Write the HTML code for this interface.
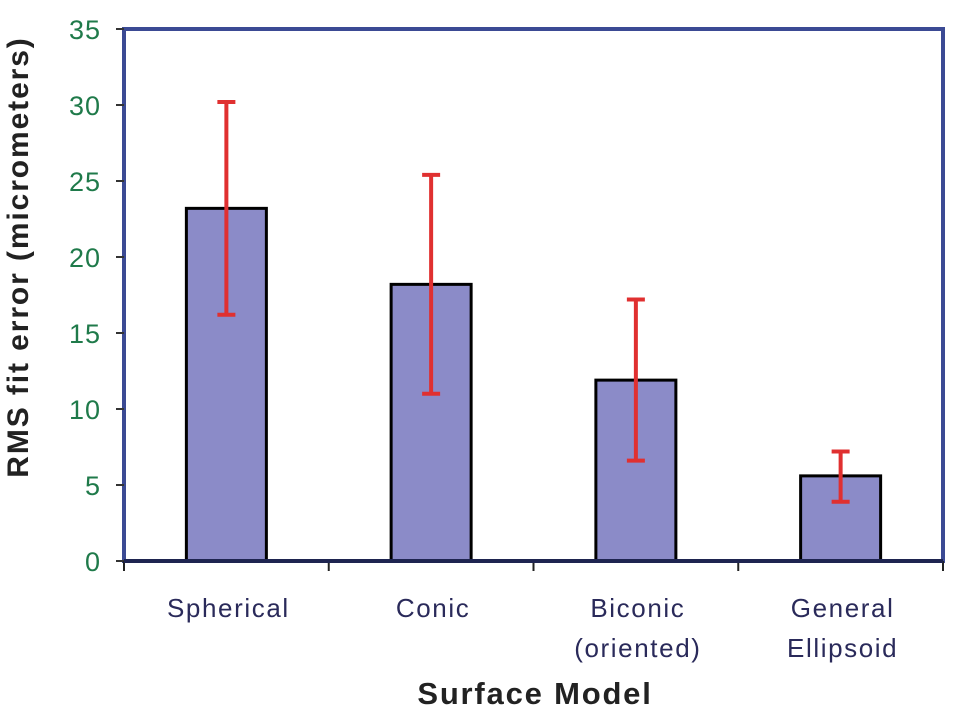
<!DOCTYPE html>
<html><head><meta charset="utf-8"><style>
body{margin:0;background:#fff;width:965px;height:707px;overflow:hidden}
svg{display:block;font-family:"Liberation Sans",Arial,sans-serif}
</style></head><body>
<svg id="chart" width="965" height="707" viewBox="0 0 965 707">
<rect x="124" y="29" width="819" height="532" fill="#fff" stroke="#3b4a94" stroke-width="4"/>
<g id="marks"></g>
<text x="535" y="704" text-anchor="middle" font-size="31" font-weight="bold" letter-spacing="1.8" fill="#222">Surface Model</text>
<text transform="translate(28,257) rotate(-90)" text-anchor="middle" font-size="30" font-weight="bold" letter-spacing="1.9" fill="#222">RMS fit error (micrometers)</text>
</svg>
<script>
const categories=[["Spherical"],["Conic"],["Biconic","(oriented)"],["General","Ellipsoid"]];
const values=[23.2,18.2,11.9,5.6];
const errLow=[16.2,11.0,6.6,3.9];
const errHigh=[30.2,25.4,17.2,7.2];
const yTicks=[0,5,10,15,20,25,30,35];
const NS="http://www.w3.org/2000/svg";
const L=124,R=943,T=29,B=561,ymax=35;
const y=v=>B-(B-T)*v/ymax;
const step=(R-L)/categories.length;
const xc=i=>L+step*(i+0.5);
const g=document.getElementById('marks');
function mk(t,a){const e=document.createElementNS(NS,t);for(const k in a)e.setAttribute(k,a[k]);g.appendChild(e);return e;}
yTicks.forEach(t=>{
 const l=mk('line',{x1:L-8,x2:L,y1:y(t),y2:y(t),stroke:'#333','stroke-width':2});
 
 
 const tx=mk('text',{x:L-23,y:y(t)+10,'text-anchor':'end','font-size':27,'letter-spacing':1,fill:'#1f7a4a'});
 tx.textContent=t;
 
 
});
for(let i=0;i<=categories.length;i++){
 const l=mk('line',{x1:L+step*i,x2:L+step*i,y1:B,y2:B+10,stroke:'#222','stroke-width':2});
 
 
}
const bw=80;
values.forEach((v,i)=>{
 const r=mk('rect',{x:xc(i)-bw/2,y:y(v),width:bw,height:B-y(v),fill:'#8b8bc8',stroke:'#000','stroke-width':3});
 
 
 const e=mk('path',{d:`M${xc(i)},${y(errLow[i])}V${y(errHigh[i])}M${xc(i)-9},${y(errLow[i])}H${xc(i)+9}M${xc(i)-9},${y(errHigh[i])}H${xc(i)+9}`,stroke:'#e03030','stroke-width':4,fill:'none'});
 
 
 categories[i].forEach((s,j)=>{
  const t=mk('text',{x:xc(i)+2,y:617+j*40,'text-anchor':'middle','font-size':26,'letter-spacing':1.6,fill:'#2a2a5a'});
  t.textContent=s;
  
  
 });
});
const ax=mk('line',{x1:L,x2:R,y1:B,y2:B,stroke:'#1e2450','stroke-width':4});


</script>
</body></html>
